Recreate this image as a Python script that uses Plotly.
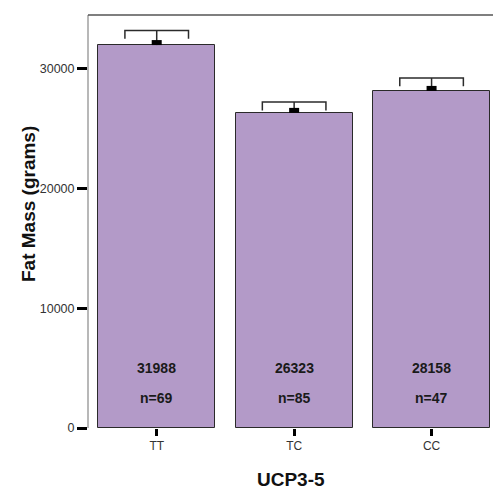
import plotly.graph_objects as go

# Genotype groups for UCP3-5 and the fat mass summary per group
genotypes = ["TT", "TC", "CC"]
mean_fat_mass = [31988, 26323, 28158]
sem_fat_mass = [1220, 900, 1080]
group_n = [69, 85, 47]

y_ticks = [0, 10000, 20000, 30000]
Y_MAX = 34500
X_RANGE = [-0.5, 2.447]

W, H = 493, 491
M_L, M_R, M_T, M_B = 88, 0, 15, 63
plot_h = H - M_T - M_B
plot_w = W - M_L - M_R
units_per_px = Y_MAX / plot_h
xunits_per_px = (X_RANGE[1] - X_RANGE[0]) / plot_w

FONT = "Arial, Liberation Sans, sans-serif"
xs = list(range(len(genotypes)))

fig = go.Figure()

fig.add_trace(go.Bar(
    x=xs, y=mean_fat_mass, width=0.85,
    marker=dict(color="#b39ac8", line=dict(color="#2a2a2a", width=1)),
    hoverinfo="skip", showlegend=False,
))

# Whisker brackets: stem from the bar top, cross-bar, and short drops at both ends
cap_half = 31.8 * xunits_per_px
drop = 8.3 * units_per_px
bx, by = [], []
for x, m, e in zip(xs, mean_fat_mass, sem_fat_mass):
    top = m + e
    bx += [x, x, None, x - cap_half, x - cap_half, x + cap_half, x + cap_half, None]
    by += [m, top, None, top - drop, top, top, top - drop, None]
fig.add_trace(go.Scatter(
    x=bx, y=by, mode="lines", line=dict(color="#2b2b2b", width=1.5),
    hoverinfo="skip", showlegend=False,
))

# Mean marker: small solid block sitting on each bar top
half_w = 5 * xunits_per_px
mx, my = [], []
for x, m in zip(xs, mean_fat_mass):
    yb = m + 2.5 * units_per_px
    mx += [x - half_w, x + half_w, None]
    my += [yb, yb, None]
fig.add_trace(go.Scatter(
    x=mx, y=my, mode="lines", line=dict(color="#000000", width=5),
    hoverinfo="skip", showlegend=False,
))

annotations = []
for x, m, n in zip(xs, mean_fat_mass, group_n):
    annotations.append(dict(
        x=x, y=(428 - 378) / plot_h, xref="x", yref="paper",
        text=f"<b>{m}</b>", showarrow=False,
        font=dict(family=FONT, size=14, color="#1a1a1a"),
    ))
    annotations.append(dict(
        x=x, y=(428 - 407.5) / plot_h, xref="x", yref="paper",
        text=f"<b>n={n}</b>", showarrow=False,
        font=dict(family=FONT, size=14, color="#1a1a1a"),
    ))

# Axis titles, positioned in pixels and converted to paper units
annotations.append(dict(
    x=(28 - M_L) / plot_w, y=(H - M_B - 204) / plot_h,
    xref="paper", yref="paper", text="<b>Fat Mass (grams)</b>",
    showarrow=False, textangle=-90, xanchor="center", yanchor="middle",
    font=dict(family=FONT, size=19, color="#111111"),
))
annotations.append(dict(
    x=0.5, y=-(479 - 428) / plot_h, xref="paper", yref="paper",
    text="<b>UCP3-5</b>", showarrow=False,
    xanchor="center", yanchor="middle",
    font=dict(family=FONT, size=19, color="#111111"),
))

fig.update_layout(
    width=W, height=H,
    margin=dict(l=M_L, r=M_R, t=M_T, b=M_B, pad=0),
    paper_bgcolor="white", plot_bgcolor="white",
    bargap=0,
    annotations=annotations,
    shapes=[
        dict(type="line", xref="paper", yref="paper", x0=0, x1=0, y0=0, y1=1,
             line=dict(color="#a0a0a0", width=1.5)),
        dict(type="line", xref="paper", yref="paper", x0=0, x1=1, y0=1, y1=1,
             line=dict(color="#555555", width=1.5)),
    ],
    xaxis=dict(
        range=X_RANGE, tickmode="array", tickvals=xs, ticktext=genotypes,
        showgrid=False, zeroline=False, showline=False,
        ticks="outside", ticklen=7, tickwidth=3, tickcolor="#000000",
        tickfont=dict(family=FONT, size=12, color="#333333"),
    ),
    yaxis=dict(
        range=[0, Y_MAX], tickmode="array", tickvals=y_ticks,
        ticktext=[str(v) for v in y_ticks],
        showgrid=False, zeroline=False, showline=False,
        ticks="outside", ticklen=10, tickwidth=3, tickcolor="#000000",
        tickfont=dict(family=FONT, size=12.5, color="#333333"),
    ),
)

fig.write_html("out.html")
